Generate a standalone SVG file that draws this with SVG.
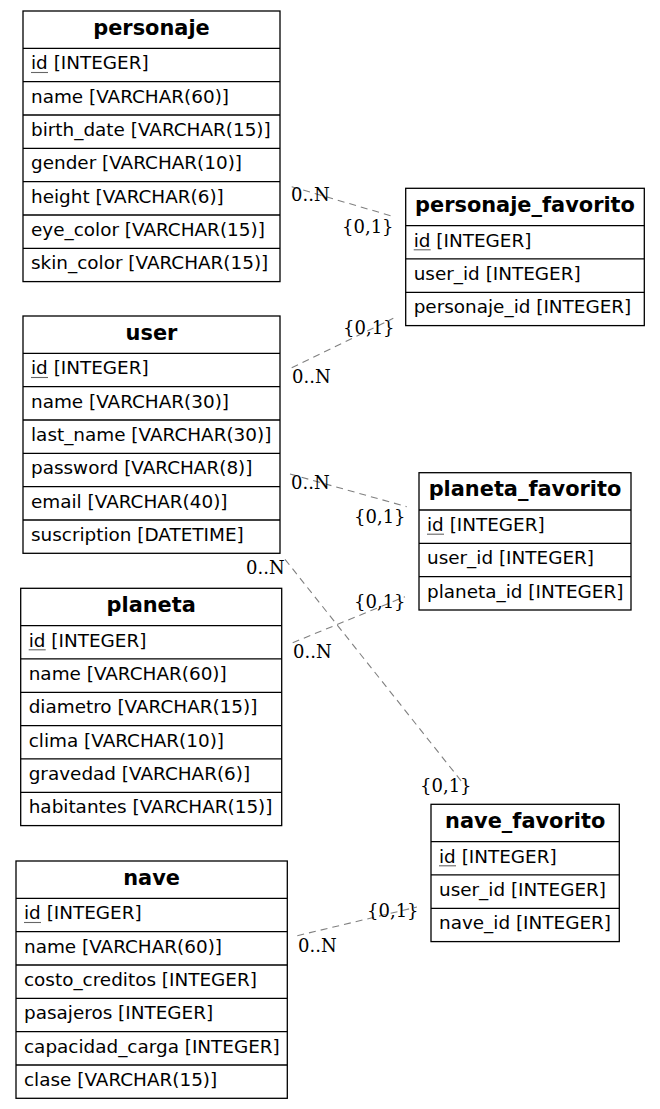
<svg xmlns="http://www.w3.org/2000/svg" width="660" height="1109" viewBox="0 0 660 1109">
<style>
.bg{fill:#ffffff}
.box{fill:#ffffff;stroke:#000000;stroke-width:1.3}
.sep{stroke:#000000;stroke-width:1.3}
.ul{stroke:#666666;stroke-width:1.1}
.hd{font-family:"DejaVu Sans",sans-serif;font-weight:bold;font-size:20.9px;fill:#000;text-anchor:middle}
.rw{font-family:"DejaVu Sans",sans-serif;font-size:18.4px;fill:#000}
.edge{fill:none;stroke:#808080;stroke-width:1.1;stroke-dasharray:7,5}
.lbl{font-family:"DejaVu Serif",serif;font-size:18px;fill:#000}
</style>
<rect class="bg" x="0" y="0" width="660" height="1109"/>
<g id="connectors">
<line class="edge" x1="291.7" y1="186.7" x2="391.7" y2="216"/>
<line class="edge" x1="291.7" y1="367.7" x2="393.3" y2="318.3"/>
<line class="edge" x1="290" y1="474" x2="406.7" y2="506.7"/>
<line class="edge" x1="285" y1="559.3" x2="462" y2="782"/>
<line class="edge" x1="292.7" y1="642.7" x2="405" y2="596.7"/>
<line class="edge" x1="297.3" y1="935.7" x2="417" y2="907"/>
<text class="lbl" x="291" y="200.5">0..N</text>
<text class="lbl" x="342" y="233">{0,1}</text>
<text class="lbl" x="343" y="334">{0,1}</text>
<text class="lbl" x="292" y="383">0..N</text>
<text class="lbl" x="291" y="488.5">0..N</text>
<text class="lbl" x="354" y="523">{0,1}</text>
<text class="lbl" x="246" y="573.5">0..N</text>
<text class="lbl" x="420" y="792">{0,1}</text>
<text class="lbl" x="354" y="608">{0,1}</text>
<text class="lbl" x="293" y="658">0..N</text>
<text class="lbl" x="367" y="917">{0,1}</text>
<text class="lbl" x="298" y="952">0..N</text>
</g>
<g id="personaje" transform="translate(23,11)">
<rect class="box" x="0" y="0" width="257" height="270.6"/>
<line class="sep" x1="0" y1="37.3" x2="257" y2="37.3"/>
<line class="sep" x1="0" y1="70.6" x2="257" y2="70.6"/>
<line class="sep" x1="0" y1="104" x2="257" y2="104"/>
<line class="sep" x1="0" y1="137.3" x2="257" y2="137.3"/>
<line class="sep" x1="0" y1="170.6" x2="257" y2="170.6"/>
<line class="sep" x1="0" y1="204" x2="257" y2="204"/>
<line class="sep" x1="0" y1="237.3" x2="257" y2="237.3"/>
<text class="hd" x="128.5" y="23.5">personaje</text>
<text class="rw" x="8" y="58.3">id [INTEGER]</text>
<line class="ul" x1="8" y1="61.5" x2="25" y2="61.5"/>
<text class="rw" x="8" y="91.6">name [VARCHAR(60)]</text>
<text class="rw" x="8" y="125">birth_date [VARCHAR(15)]</text>
<text class="rw" x="8" y="158.3">gender [VARCHAR(10)]</text>
<text class="rw" x="8" y="191.6">height [VARCHAR(6)]</text>
<text class="rw" x="8" y="225">eye_color [VARCHAR(15)]</text>
<text class="rw" x="8" y="258.3">skin_color [VARCHAR(15)]</text>
</g>
<g id="user" transform="translate(23,316)">
<rect class="box" x="0" y="0" width="257" height="237.3"/>
<line class="sep" x1="0" y1="37.3" x2="257" y2="37.3"/>
<line class="sep" x1="0" y1="70.6" x2="257" y2="70.6"/>
<line class="sep" x1="0" y1="104" x2="257" y2="104"/>
<line class="sep" x1="0" y1="137.3" x2="257" y2="137.3"/>
<line class="sep" x1="0" y1="170.6" x2="257" y2="170.6"/>
<line class="sep" x1="0" y1="204" x2="257" y2="204"/>
<text class="hd" x="128.5" y="23.5">user</text>
<text class="rw" x="8" y="58.3">id [INTEGER]</text>
<line class="ul" x1="8" y1="61.5" x2="25" y2="61.5"/>
<text class="rw" x="8" y="91.6">name [VARCHAR(30)]</text>
<text class="rw" x="8" y="125">last_name [VARCHAR(30)]</text>
<text class="rw" x="8" y="158.3">password [VARCHAR(8)]</text>
<text class="rw" x="8" y="191.6">email [VARCHAR(40)]</text>
<text class="rw" x="8" y="225">suscription [DATETIME]</text>
</g>
<g id="planeta" transform="translate(20.7,588.3)">
<rect class="box" x="0" y="0" width="261" height="237.3"/>
<line class="sep" x1="0" y1="37.3" x2="261" y2="37.3"/>
<line class="sep" x1="0" y1="70.6" x2="261" y2="70.6"/>
<line class="sep" x1="0" y1="104" x2="261" y2="104"/>
<line class="sep" x1="0" y1="137.3" x2="261" y2="137.3"/>
<line class="sep" x1="0" y1="170.6" x2="261" y2="170.6"/>
<line class="sep" x1="0" y1="204" x2="261" y2="204"/>
<text class="hd" x="130.5" y="23.5">planeta</text>
<text class="rw" x="8" y="58.3">id [INTEGER]</text>
<line class="ul" x1="8" y1="61.5" x2="25" y2="61.5"/>
<text class="rw" x="8" y="91.6">name [VARCHAR(60)]</text>
<text class="rw" x="8" y="125">diametro [VARCHAR(15)]</text>
<text class="rw" x="8" y="158.3">clima [VARCHAR(10)]</text>
<text class="rw" x="8" y="191.6">gravedad [VARCHAR(6)]</text>
<text class="rw" x="8" y="225">habitantes [VARCHAR(15)]</text>
</g>
<g id="nave" transform="translate(16,861)">
<rect class="box" x="0" y="0" width="271.3" height="237.3"/>
<line class="sep" x1="0" y1="37.3" x2="271.3" y2="37.3"/>
<line class="sep" x1="0" y1="70.6" x2="271.3" y2="70.6"/>
<line class="sep" x1="0" y1="104" x2="271.3" y2="104"/>
<line class="sep" x1="0" y1="137.3" x2="271.3" y2="137.3"/>
<line class="sep" x1="0" y1="170.6" x2="271.3" y2="170.6"/>
<line class="sep" x1="0" y1="204" x2="271.3" y2="204"/>
<text class="hd" x="135.6" y="23.5">nave</text>
<text class="rw" x="8" y="58.3">id [INTEGER]</text>
<line class="ul" x1="8" y1="61.5" x2="25" y2="61.5"/>
<text class="rw" x="8" y="91.6">name [VARCHAR(60)]</text>
<text class="rw" x="8" y="125">costo_creditos [INTEGER]</text>
<text class="rw" x="8" y="158.3">pasajeros [INTEGER]</text>
<text class="rw" x="8" y="191.6">capacidad_carga [INTEGER]</text>
<text class="rw" x="8" y="225">clase [VARCHAR(15)]</text>
</g>
<g id="personaje_favorito" transform="translate(405.7,188.3)">
<rect class="box" x="0" y="0" width="238.6" height="137.3"/>
<line class="sep" x1="0" y1="37.3" x2="238.6" y2="37.3"/>
<line class="sep" x1="0" y1="70.6" x2="238.6" y2="70.6"/>
<line class="sep" x1="0" y1="104" x2="238.6" y2="104"/>
<text class="hd" x="119.3" y="23.5">personaje_favorito</text>
<text class="rw" x="8" y="58.3">id [INTEGER]</text>
<line class="ul" x1="8" y1="61.5" x2="25" y2="61.5"/>
<text class="rw" x="8" y="91.6">user_id [INTEGER]</text>
<text class="rw" x="8" y="125">personaje_id [INTEGER]</text>
</g>
<g id="planeta_favorito" transform="translate(419,472.7)">
<rect class="box" x="0" y="0" width="212" height="137.3"/>
<line class="sep" x1="0" y1="37.3" x2="212" y2="37.3"/>
<line class="sep" x1="0" y1="70.6" x2="212" y2="70.6"/>
<line class="sep" x1="0" y1="104" x2="212" y2="104"/>
<text class="hd" x="106" y="23.5">planeta_favorito</text>
<text class="rw" x="8" y="58.3">id [INTEGER]</text>
<line class="ul" x1="8" y1="61.5" x2="25" y2="61.5"/>
<text class="rw" x="8" y="91.6">user_id [INTEGER]</text>
<text class="rw" x="8" y="125">planeta_id [INTEGER]</text>
</g>
<g id="nave_favorito" transform="translate(431,804.3)">
<rect class="box" x="0" y="0" width="188.3" height="137.3"/>
<line class="sep" x1="0" y1="37.3" x2="188.3" y2="37.3"/>
<line class="sep" x1="0" y1="70.6" x2="188.3" y2="70.6"/>
<line class="sep" x1="0" y1="104" x2="188.3" y2="104"/>
<text class="hd" x="94.2" y="23.5">nave_favorito</text>
<text class="rw" x="8" y="58.3">id [INTEGER]</text>
<line class="ul" x1="8" y1="61.5" x2="25" y2="61.5"/>
<text class="rw" x="8" y="91.6">user_id [INTEGER]</text>
<text class="rw" x="8" y="125">nave_id [INTEGER]</text>
</g>
</svg>
